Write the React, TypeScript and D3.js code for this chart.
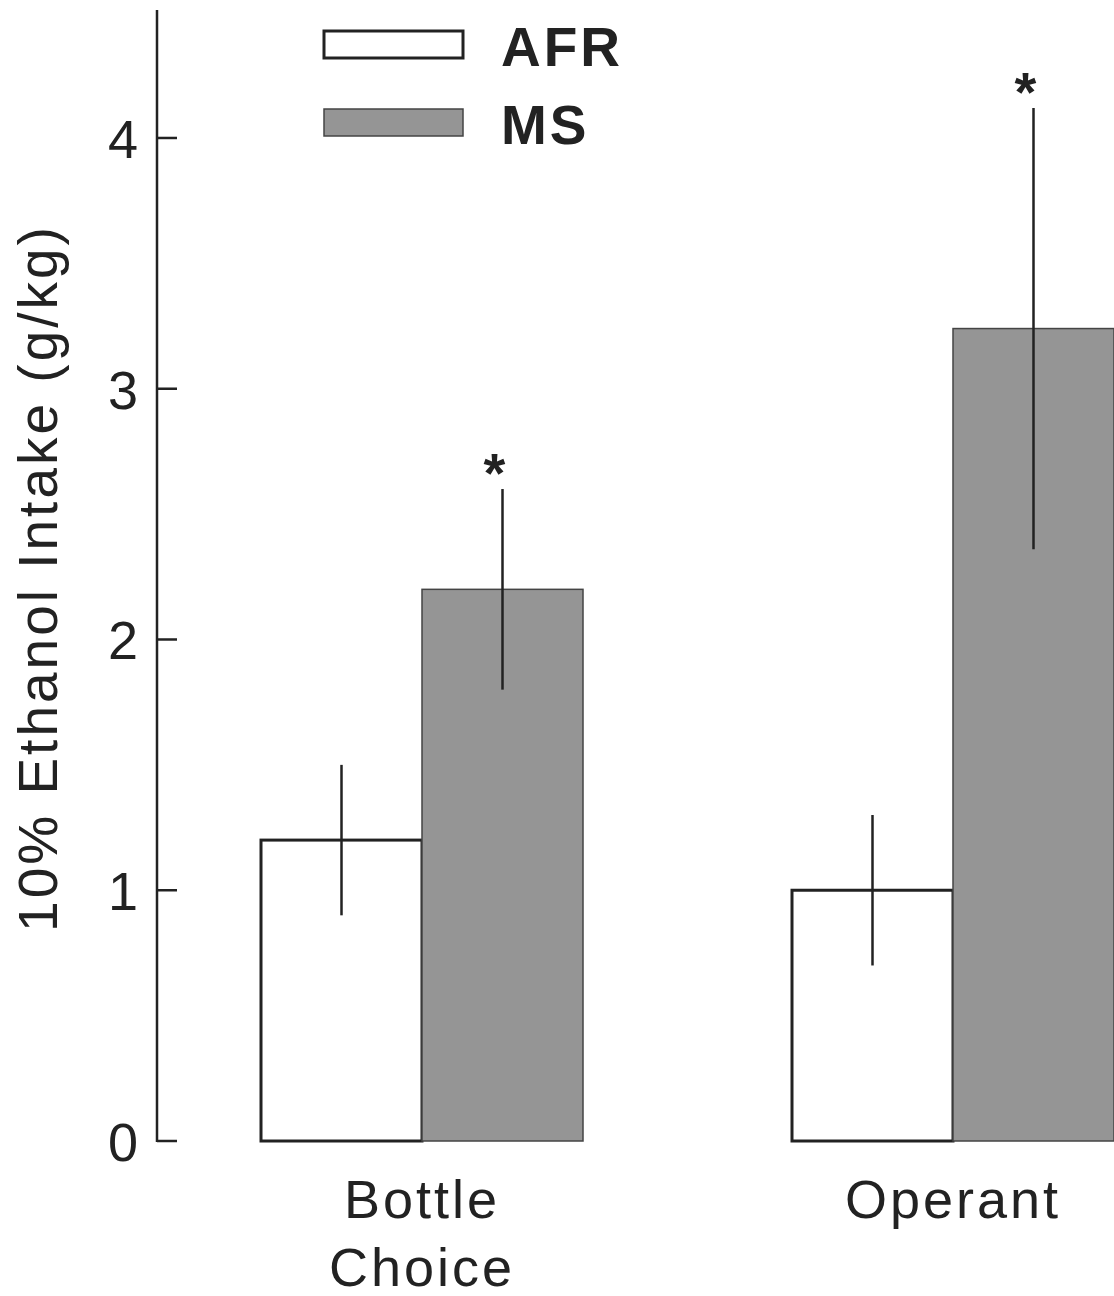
import React from "react";
import * as d3 from "d3";

const categories = ["Bottle\nChoice", "Operant"];
const groups = ["AFR", "MS"];
const afrMeans = [1.2, 1.0];
const afrErrors = [0.3, 0.3];
const msMeans = [2.2, 3.24];
const msErrors = [0.4, 0.88];
const significant = [true, true];
const yTicks = [0, 1, 2, 3, 4];

const W = 1114;
const H = 1296;
const TEXT = "#222";
const GRAY = "#959595";
const FONT = "Arial, 'Liberation Sans', Helvetica, sans-serif";

export default function App() {
  const y = d3.scaleLinear().domain([0, 4.5]).range([1141, 12.6]);
  const xCenter = d3.scalePoint<string>().domain(categories).range([422, 953]);
  const xInner = d3.scaleBand<string>().domain(groups).range([-161, 161]);
  const axisX = 157;

  const series = [
    { key: "AFR", means: afrMeans, errs: afrErrors, fill: "#ffffff", stroke: "#222", sw: 3 },
    { key: "MS", means: msMeans, errs: msErrors, fill: GRAY, stroke: "#444", sw: 1.5 },
  ];

  return (
    <svg
      width={W}
      height={H}
      style={{ position: "absolute", left: 0, top: 0, background: "#fff" }}
      fontFamily={FONT}
    >
      <rect x={0} y={0} width={W} height={H} fill="#fff" />
      {/* bars */}
      {series.map((s) =>
        categories.map((c, i) => {
          const x0 = (xCenter(c) as number) + (xInner(s.key) as number);
          const bw = xInner.bandwidth();
          return (
            <rect
              key={s.key + c}
              x={x0}
              y={y(s.means[i])}
              width={bw}
              height={y(0) - y(s.means[i])}
              fill={s.fill}
              stroke={s.stroke}
              strokeWidth={s.sw}
            />
          );
        })
      )}
      {/* error bars */}
      {series.map((s) =>
        categories.map((c, i) => {
          const cx = (xCenter(c) as number) + (xInner(s.key) as number) + xInner.bandwidth() / 2;
          return (
            <line
              key={"e" + s.key + c}
              x1={cx}
              x2={cx}
              y1={y(s.means[i] - s.errs[i])}
              y2={y(s.means[i] + s.errs[i])}
              stroke="#222"
              strokeWidth={2.5}
            />
          );
        })
      )}
      {/* asterisks */}
      {categories.map((c, i) => {
        if (!significant[i]) return null;
        const cx = (xCenter(c) as number) + (xInner("MS") as number) + xInner.bandwidth() / 2;
        return (
          <text
            key={"s" + c}
            x={cx - 8}
            y={y(msMeans[i] + msErrors[i]) + 3}
            textAnchor="middle"
            fontSize={56}
            fontWeight="bold"
            fill={TEXT}
          >
            *
          </text>
        );
      })}
      {/* y axis */}
      <line x1={axisX} x2={axisX} y1={y(4.5) - 2.6} y2={y(0) + 1} stroke="#222" strokeWidth={2.5} />
      {yTicks.map((t) => (
        <g key={"t" + t}>
          <line x1={axisX} x2={axisX + 20} y1={y(t)} y2={y(t)} stroke="#222" strokeWidth={2.5} />
          <text x={138} y={y(t) + 20} textAnchor="end" fontSize={54} fill={TEXT}>
            {t}
          </text>
        </g>
      ))}
      {/* y title */}
      <text
        transform={`translate(57, 578) rotate(-90)`}
        textAnchor="middle"
        fontSize={55}
        letterSpacing={3}
        fill={TEXT}
      >
        10% Ethanol Intake (g/kg)
      </text>
      {/* category labels */}
      {categories.map((c) => (
        <text
          key={"c" + c}
          x={xCenter(c) as number}
          y={1218}
          textAnchor="middle"
          fontSize={54}
          letterSpacing={3}
          fill={TEXT}
        >
          {c.split("\n").map((line, j) => (
            <tspan key={j} x={xCenter(c) as number} dy={j === 0 ? 0 : 68}>
              {line}
            </tspan>
          ))}
        </text>
      ))}
      {/* legend */}
      {series.map((s, i) => (
        <g key={"l" + s.key} transform={`translate(0, ${i * 78})`}>
          <rect x={324} y={31} width={139} height={27} fill={s.fill} stroke={s.stroke} strokeWidth={s.sw} />
          <text x={501} y={66} fontSize={55} fontWeight="bold" letterSpacing={3} fill={TEXT}>
            {s.key}
          </text>
        </g>
      ))}
    </svg>
  );
}
